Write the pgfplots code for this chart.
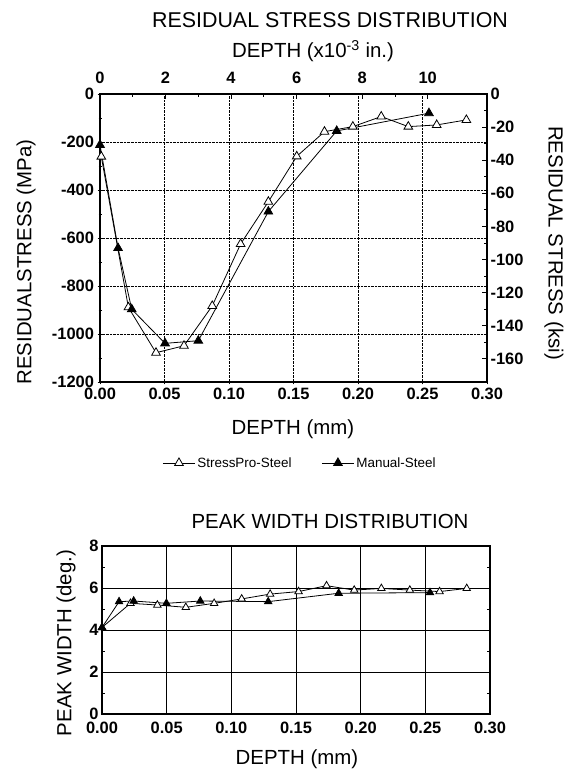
\documentclass[border=0pt]{standalone}
\usepackage{fontspec}
\setmainfont{Liberation Sans}
\usepackage{pgfplots}
\pgfplotsset{compat=1.18}

\newcommand{\tickfont}{\fontsize{16.5}{18}\selectfont\bfseries}
\newcommand{\labfont}{\fontsize{20.5}{23}\selectfont}

\pgfplotsset{
  common/.style={
    scale only axis,
    anchor=south west,
    axis line style={line width=1.1bp},
    tick style={black, line width=0.8bp},
    major tick length=5bp, minor tick length=3bp,
    ticklabel style={font=\tickfont},
    /pgf/number format/assume math mode=true,
    /pgf/number format/fixed,
    /pgf/number format/1000 sep={},
    clip=false,
  },
  openser/.style={black, line width=0.8bp, mark=triangle*, mark size=5bp,
    mark options={fill=white, line width=0.8bp}},
  fillser/.style={black, line width=0.8bp, mark=triangle*, mark size=5bp,
    mark options={fill=black}},
}

\begin{document}
\begin{tikzpicture}[x=1bp,y=1bp]
\useasboundingbox (0,0) rectangle (570,773);

% ---------- residual stress (MPa / mm)
\begin{axis}[common,
  at={(100bp,391bp)}, width=387bp, height=288bp,
  xmin=0, xmax=0.30, ymin=-1200, ymax=0,
  xtick={0,0.05,0.10,0.15,0.20,0.25,0.30},
  xticklabels={0.00,0.05,0.10,0.15,0.20,0.25,0.30},
  ytick={-1200,-1000,-800,-600,-400,-200,0},
  xtick pos=bottom, ytick pos=left,
  tick align=center,
  minor y tick num=1,
  grid=major, grid style={densely dotted, black, line width=0.9bp},
  legend style={at={(0.517,-0.281)}, anchor=center, draw=none, fill=none,
    legend columns=2, font=\fontsize{13.5}{15}\selectfont,
    /tikz/every even column/.append style={column sep=28bp}},
  legend image code/.code={%
    \draw[mark repeat=2, mark phase=2, #1] plot coordinates {(0bp,0bp) (16bp,0bp) (32bp,0bp)};},
]
\addplot[openser] coordinates {
  (0.001,-261) (0.022,-889) (0.0434,-1078) (0.0651,-1049) (0.087,-883)
  (0.109,-625) (0.1305,-449) (0.1525,-260) (0.174,-157) (0.196,-136)
  (0.218,-94) (0.239,-136) (0.261,-129) (0.284,-108)
};
\addlegendentry{StressPro-Steel}
\addplot[fillser] coordinates {
  (0.000,-212) (0.014,-642) (0.0246,-897) (0.0504,-1039) (0.0762,-1028)
  (0.1305,-490) (0.1835,-154) (0.255,-80)
};
\addlegendentry{Manual-Steel}
\end{axis}

% ---------- secondary scales (ksi / 1e-3 in.)
\begin{axis}[common,
  at={(100bp,391bp)}, width=387bp, height=288bp,
  xmin=0, xmax=11.811, ymin=-174.045, ymax=0,
  axis x line*=top, axis y line*=right,
  xtick={0,2,4,6,8,10},
  ytick={-160,-140,-120,-100,-80,-60,-40,-20,0},
  minor y tick num=1, minor x tick num=1,
  tick align=inside,
  xticklabel style={yshift=7bp},
]
\addplot[draw=none] coordinates {(0,0)};
\end{axis}

\node[font=\fontsize{21.5}{24}\selectfont, anchor=base] at (330,745) {RESIDUAL STRESS DISTRIBUTION};
\node[font=\labfont, anchor=base] at (313,715) {DEPTH (x10\textsuperscript{-3} in.)};
\node[font=\labfont, anchor=base] at (293,338) {DEPTH (mm)};
\node[font=\labfont, rotate=90] at (26,511) {RESIDUALSTRESS (MPa)};
\node[font=\labfont, rotate=-90] at (554,530) {RESIDUAL STRESS (ksi)};

% ---------- peak width
\begin{axis}[common,
  at={(102bp,59bp)}, width=388bp, height=168bp,
  xmin=0, xmax=0.30, ymin=0, ymax=8,
  xtick={0,0.05,0.10,0.15,0.20,0.25,0.30},
  xticklabels={0.00,0.05,0.10,0.15,0.20,0.25,0.30},
  ytick={0,2,4,6,8},
  minor y tick num=1,
  tick align=inside,
  xticklabel style={yshift=-5bp},
  grid=major, grid style={black, line width=0.8bp},
]
\addplot[openser, mark size=4.3bp] coordinates {
  (0.000,4.12) (0.022,5.27) (0.0428,5.19) (0.0648,5.08) (0.0867,5.27)
  (0.108,5.48) (0.130,5.71) (0.152,5.83) (0.1736,6.11) (0.195,5.90)
  (0.216,5.98) (0.238,5.90) (0.261,5.83) (0.282,5.98)
};
\addplot[fillser, mark size=4.3bp] coordinates {
  (0.000,4.12) (0.0132,5.35) (0.0245,5.38) (0.0498,5.27) (0.076,5.38)
  (0.1285,5.35) (0.183,5.75) (0.2536,5.78)
};
\end{axis}

\node[font=\labfont, anchor=base] at (330,244) {PEAK WIDTH DISTRIBUTION};
\node[font=\labfont, anchor=base] at (297,8) {DEPTH (mm)};
\node[font=\labfont, rotate=90] at (66,130) {PEAK WIDTH (deg.)};
\end{tikzpicture}
\end{document}
